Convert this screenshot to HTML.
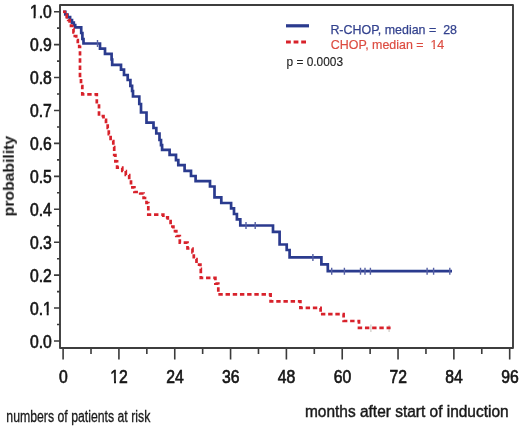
<!DOCTYPE html>
<html><head><meta charset="utf-8"><style>
html,body{margin:0;padding:0;background:#fff;}
svg{display:block;}
text{font-family:"Liberation Sans",sans-serif;}
</style></head><body>
<svg width="520" height="427" viewBox="0 0 520 427">
<defs><filter id="soft" x="0" y="0" width="100%" height="100%"><feGaussianBlur stdDeviation="0.5"/></filter></defs>
<rect width="520" height="427" fill="#fff"/>
<g filter="url(#soft)">
<g fill="#141414" stroke="#141414" stroke-width="0.6" font-size="17.5"><g transform="translate(51.80,347.60) scale(0.9,1)"><text text-anchor="end">0.0</text></g><g transform="translate(51.80,314.67) scale(0.9,1)"><text text-anchor="end">0.1</text><g fill="#fff" stroke="none"><rect x="-9.73" y="-2.3" width="4.08" height="4.0"/><rect x="-3.47" y="-2.3" width="5.70" height="4.0"/></g></g><g transform="translate(51.80,281.74) scale(0.9,1)"><text text-anchor="end">0.2</text></g><g transform="translate(51.80,248.81) scale(0.9,1)"><text text-anchor="end">0.3</text></g><g transform="translate(51.80,215.88) scale(0.9,1)"><text text-anchor="end">0.4</text></g><g transform="translate(51.80,182.95) scale(0.9,1)"><text text-anchor="end">0.5</text></g><g transform="translate(51.80,150.02) scale(0.9,1)"><text text-anchor="end">0.6</text></g><g transform="translate(51.80,117.09) scale(0.9,1)"><text text-anchor="end">0.7</text></g><g transform="translate(51.80,84.16) scale(0.9,1)"><text text-anchor="end">0.8</text></g><g transform="translate(51.80,51.23) scale(0.9,1)"><text text-anchor="end">0.9</text></g><g transform="translate(51.80,18.30) scale(0.9,1)"><text text-anchor="end">1.0</text><g fill="#fff" stroke="none"><rect x="-24.33" y="-2.3" width="4.08" height="4.0"/><rect x="-18.06" y="-2.3" width="3.39" height="4.0"/></g></g><g transform="translate(63.30,383.00) scale(0.9,1)"><text text-anchor="middle">0</text></g><g transform="translate(119.12,383.00) scale(0.9,1)"><text text-anchor="middle">12</text><g fill="#fff" stroke="none"><rect x="-9.73" y="-2.3" width="4.08" height="4.0"/><rect x="-3.47" y="-2.3" width="3.39" height="4.0"/></g></g><g transform="translate(174.95,383.00) scale(0.9,1)"><text text-anchor="middle">24</text></g><g transform="translate(230.77,383.00) scale(0.9,1)"><text text-anchor="middle">36</text></g><g transform="translate(286.60,383.00) scale(0.9,1)"><text text-anchor="middle">48</text></g><g transform="translate(342.42,383.00) scale(0.9,1)"><text text-anchor="middle">60</text></g><g transform="translate(398.24,383.00) scale(0.9,1)"><text text-anchor="middle">72</text></g><g transform="translate(454.07,383.00) scale(0.9,1)"><text text-anchor="middle">84</text></g><g transform="translate(509.89,383.00) scale(0.9,1)"><text text-anchor="middle">96</text></g></g>
<path d="M54,341.00H60M54,308.07H60M54,275.14H60M54,242.21H60M54,209.28H60M54,176.35H60M54,143.42H60M54,110.49H60M54,77.56H60M54,44.63H60M54,11.70H60M57,324.54H60M57,291.61H60M57,258.68H60M57,225.75H60M57,192.81H60M57,159.88H60M57,126.95H60M57,94.02H60M57,61.09H60M57,28.16H60M63.10,348V359.5M118.92,348V359.5M174.75,348V359.5M230.57,348V359.5M286.40,348V359.5M342.22,348V359.5M398.04,348V359.5M453.87,348V359.5M509.69,348V359.5M91.01,348V354M146.84,348V354M202.66,348V354M258.48,348V354M314.31,348V354M370.13,348V354M425.96,348V354M481.78,348V354" stroke="#3a3a3a" stroke-width="1.6" fill="none"/>
<rect x="60" y="5" width="453" height="343" fill="none" stroke="#3c3c3c" stroke-width="1.9" stroke-linejoin="round"/>
<path d="M63.1,11.75H65.3V14.5H67.5V17.2H70.1V20.0H72.0V22.7H73.8V25.0H75.2V27.3H81.2V33.0H82.4V39.0H83.5V43.5H100.0V48.6H105.0V53.8H111.6V59.5H112.2V64.8H121.0V69.6H124.0V75.0H127.7V80.0H130.4V85.8H132.1V91.0H133.0V96.5H139.3V104.0H141.0V112.5H146.5V122.7H153.5V128.0H156.3V133.5H159.5V140.0H161.0V145.2H162.1V149.8H169.6V154.8H176.0V160.2H178.3V165.2H184.6V170.8H191.0V176.0H195.6V181.1H210.0V186.5H214.5V197.3H221.3V203.0H231.1V208.3H234.0V214.0H236.9V219.3H240.3V225.5H273.0V231.8H279.6V244.5H286.7V250.0H289.6V257.4H321.4V264.4H327.8V271.2H452.0" fill="none" stroke="#2b3a8e" stroke-width="2.7"/>
<path d="M370.9,324.5v7.5M389.1,325v7" stroke="#a8a098" stroke-width="1.2" opacity="0.55"/>
<path d="M63.1,11.75H64.8V14.5H66.7V17.2H68.2V20.0H69.6V23.0H71.0V26.0H72.3V29.0H73.5V32.5H74.8V36.0H76.2V40.0H77.8V43.5H79.2V47.0H80.0V78.0H81.0V86.0H82.3V94.3H96.8V104.0H99.0V116.0H103.5V119.8H106.0V124.0H107.7V128.0H108.8V134.2H110.6V141.1H113.3V147.0H114.2V155.0H115.4V161.3H117.1V167.7H122.3V171.0H125.8V175.0H129.2V179.5H131.0V187.3H134.4V192.0H140.2V193.5H143.6V198.0H146.5V203.0H148.3V214.7H163.3V217.3H167.8V221.0H170.6V226.5H173.4V231.1H176.3V236.0H179.8V242.7H187.5V248.5H192.5V252.5H193.8V259.0H196.5V264.6H200.4V268.8H200.8V277.9H215.4V283.6H218.3V294.4H270.6V301.3H300.4V307.9H320.6V314.2H343.6V321.0H359.0V327.8H390.6" fill="none" stroke="#d8202c" stroke-width="2.7" stroke-dasharray="4.4 2.8" stroke-dashoffset="1.3"/>
<path d="M97.5,40.0v7M246.0,222.0v7M255.2,222.0v7M312.9,253.9v7M331.7,267.7v7M344.4,267.7v7M360.5,267.7v7M365.0,267.7v7M370.4,267.7v7M427.1,267.7v7M433.6,267.7v7M449.8,267.7v7" fill="none" stroke="#5560a4" stroke-width="1.4"/>
<path d="M286,25.8H309" stroke="#2b3a8e" stroke-width="3.2"/>
<path d="M286,42H306.5" stroke="#d8202c" stroke-width="3.2" stroke-dasharray="4.8 2.8"/>
<g font-size="13.5">
<text x="330.4" y="33.5" fill="#33428e" stroke="#33428e" stroke-width="0.25" textLength="126.6" lengthAdjust="spacingAndGlyphs">R-CHOP, median =&#160; 28</text>
<text x="330.8" y="49.0" fill="#dc4c40" stroke="#dc4c40" stroke-width="0.2" textLength="113.5" lengthAdjust="spacingAndGlyphs">CHOP, median =&#160; 14</text>
<g fill="#fff"><rect x="430.46" y="47.10" width="2.90" height="3.4"/><rect x="434.92" y="47.10" width="2.41" height="3.4"/></g>
<text x="286.5" y="65.7" font-size="12.8" fill="#222" stroke="#222" stroke-width="0.12" textLength="56.5" lengthAdjust="spacingAndGlyphs">p = 0.0003</text>
</g>
<text transform="translate(13.8,216.4) rotate(-90)" font-size="15" font-weight="bold" fill="#1a1a1a" textLength="80.6" lengthAdjust="spacingAndGlyphs">probability</text>
<text x="6.3" y="422.2" font-size="15.8" stroke="#1a1a1a" stroke-width="0.3" fill="#1a1a1a" textLength="144" lengthAdjust="spacingAndGlyphs">numbers of patients at risk</text>
<text x="305.0" y="416.9" font-size="16.3" stroke="#1a1a1a" stroke-width="0.45" fill="#1a1a1a" textLength="203.6" lengthAdjust="spacingAndGlyphs">months after start of induction</text>
</g>
</svg>
</body></html>
